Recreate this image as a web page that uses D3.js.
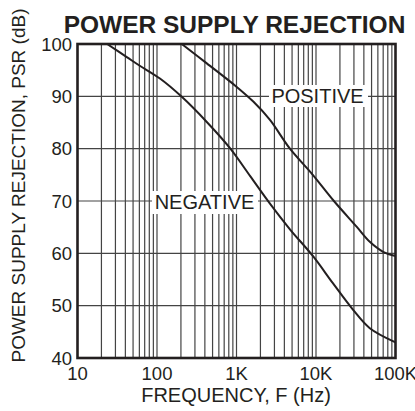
<!DOCTYPE html>
<html><head><meta charset="utf-8">
<script src="https://cdn.jsdelivr.net/npm/d3@7"></script>
<style>body{margin:0;background:#fff}svg{display:block}text{font-family:"Liberation Sans",Arial,sans-serif;fill:#231f20}</style>
</head><body>
<script>
const xTickValues = [10, 100, 1000, 10000, 100000];
const xTickLabels = ["10", "100", "1K", "10K", "100K"];
const yTickValues = [40, 50, 60, 70, 80, 90, 100];
const negFreq = [23.6, 41.7, 61.4, 109, 205, 423, 828, 1479, 2636, 4700, 9230, 16300, 29300, 47500, 100000];
const negDb   = [100, 97.5, 95.8, 93.4, 89.9, 85.1, 80.1, 74.8, 69.5, 64.6, 59.4, 54.3, 49.2, 45.7, 43.0];
const posFreq = [205, 423, 1007, 1626, 2636, 4700, 9000, 16800, 32400, 47500, 69800, 100000];
const posDb   = [100, 96.3, 91.8, 89.0, 85.5, 80, 75.1, 70, 65.1, 62.2, 60.3, 59.5];

const W = 415, H = 411;
const svg = d3.select("body").append("svg").attr("width", W).attr("height", H);
const x = d3.scaleLog().domain([10, 100000]).range([77.5, 395.5]);
const y = d3.scaleLinear().domain([40, 100]).range([358, 44]);

const vlines = [];
for (let d = 10; d < 100000; d *= 10) for (let k = 1; k <= 9; k++) vlines.push(d * k);
svg.append("g").selectAll("line").data(vlines.filter(v => v > 10)).join("line")
  .attr("x1", d => x(d)).attr("x2", d => x(d)).attr("y1", y(100)).attr("y2", y(40))
  .attr("stroke", "#444").attr("stroke-width", 1.2);
svg.append("g").selectAll("line").data(yTickValues.slice(1, -1)).join("line")
  .attr("x1", x(10)).attr("x2", x(100000)).attr("y1", d => y(d)).attr("y2", d => y(d))
  .attr("stroke", "#444").attr("stroke-width", 1.2);

svg.append("rect").attr("x", 269).attr("y", 85).attr("width", 99).attr("height", 22).attr("fill", "#fff");
svg.append("rect").attr("x", 152).attr("y", 191).attr("width", 106).attr("height", 23).attr("fill", "#fff");

svg.append("rect").attr("x", x(10)).attr("y", y(100)).attr("width", x(100000) - x(10)).attr("height", y(40) - y(100))
  .attr("fill", "none").attr("stroke", "#231f20").attr("stroke-width", 2.6);

const line = d3.line().x(d => x(d[0])).y(d => y(d[1])).curve(d3.curveCatmullRom.alpha(0.5));
svg.append("path").attr("d", line(negFreq.map((f, i) => [f, negDb[i]])))
  .attr("fill", "none").attr("stroke", "#231f20").attr("stroke-width", 2);
svg.append("path").attr("d", line(posFreq.map((f, i) => [f, posDb[i]])))
  .attr("fill", "none").attr("stroke", "#231f20").attr("stroke-width", 2);

svg.append("text").attr("x", 317.5).attr("y", 103).attr("text-anchor", "middle").attr("font-size", 20).text("POSITIVE");
svg.append("text").attr("x", 204.5).attr("y", 208.5).attr("text-anchor", "middle").attr("font-size", 20).text("NEGATIVE");

svg.append("g").selectAll("text").data(xTickValues).join("text")
  .attr("x", d => x(d)).attr("y", 379.5).attr("text-anchor", "middle").attr("font-size", 18.5)
  .text((d, i) => xTickLabels[i]);
svg.append("g").selectAll("text").data(yTickValues).join("text")
  .attr("x", 72).attr("y", d => y(d) + 6.5).attr("text-anchor", "end").attr("font-size", 18.5)
  .text(d => d);

svg.append("text").attr("x", 236).attr("y", 401.5).attr("text-anchor", "middle").attr("font-size", 20)
  .text("FREQUENCY, F (Hz)");
svg.append("text").attr("transform", "translate(24.5,185.5) rotate(-90)").attr("text-anchor", "middle").attr("font-size", 19)
  .text("POWER SUPPLY REJECTION, PSR (dB)");

svg.append("text").attr("x", 234.5).attr("y", 33).attr("text-anchor", "middle").attr("font-size", 24.5).attr("font-weight", "bold")
  .text("POWER SUPPLY REJECTION");
</script>
</body></html>
